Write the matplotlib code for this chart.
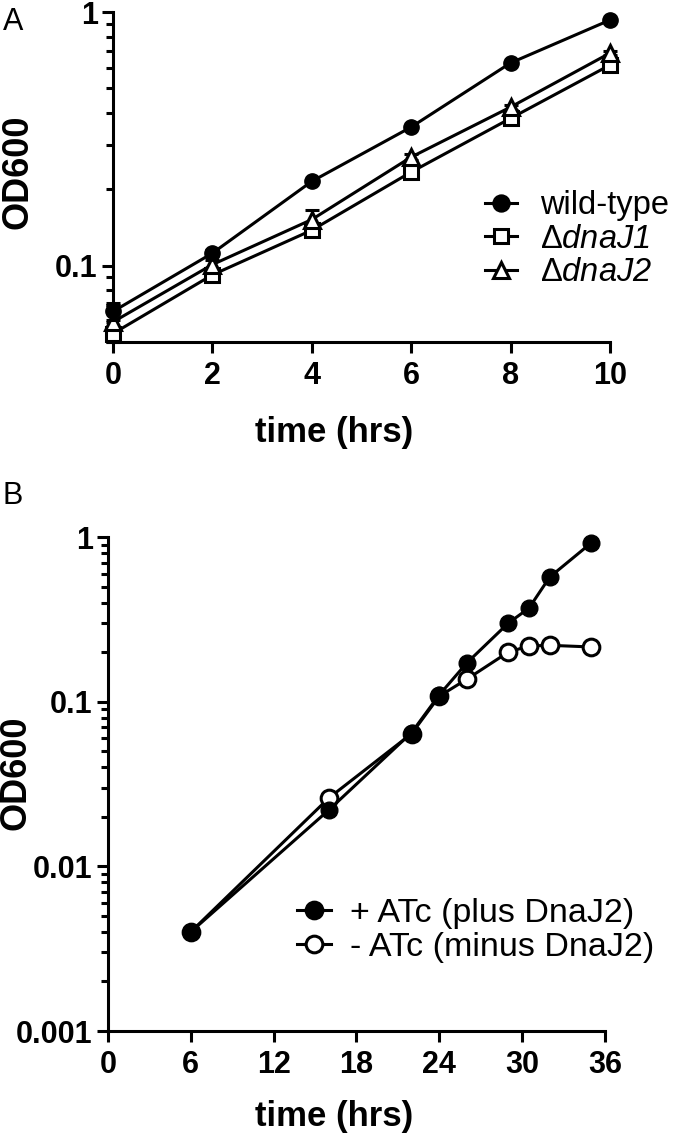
import numpy as np
import matplotlib
matplotlib.use("Agg")
import matplotlib.pyplot as plt
from matplotlib.lines import Line2D
from matplotlib.ticker import LogLocator, NullFormatter, FixedLocator, FixedFormatter

plt.rcParams['font.family'] = ['Liberation Sans', 'DejaVu Sans']
plt.rcParams['mathtext.fontset'] = 'custom'
plt.rcParams['mathtext.rm'] = 'Liberation Sans'
plt.rcParams['mathtext.sf'] = 'Liberation Sans:italic'

# panel A: growth of deletion strains
hrs_a = [0, 2, 4, 6, 8, 10]
wild_type = [0.066, 0.112, 0.215, 0.352, 0.63, 0.93]
dnaj1 = [0.054, 0.092, 0.138, 0.234, 0.381, 0.618]
dnaj2 = [0.060, 0.101, 0.152, 0.268, 0.422, 0.689]
dnaj2_err = [0.010, 0.004, 0.014, 0.008, 0.010, 0.012]
wt_err = [0.005, 0.003, 0.004, 0.006, 0.010, 0.010]
labels_a = ['wild-type', r'$\mathrm{\Delta}\mathsf{dnaJ1}$', r'$\mathrm{\Delta}\mathsf{dnaJ2}$']

# panel B: depletion of DnaJ2
hrs_b = [6, 16, 22, 24, 26, 29, 30.5, 32, 35]
plus_atc = [0.004, 0.022, 0.065, 0.11, 0.172, 0.30, 0.37, 0.571, 0.92]
minus_atc = [0.004, 0.026, 0.064, 0.108, 0.137, 0.20, 0.218, 0.22, 0.215]
labels_b = ['+ ATc (plus DnaJ2)', '- ATc (minus DnaJ2)']

fig = plt.figure(figsize=(6.77, 11.39), dpi=100)

LW = 2.2


def style_axes(ax):
    for s in ['top', 'right']:
        ax.spines[s].set_visible(False)
    for s in ['left', 'bottom']:
        ax.spines[s].set_linewidth(LW)
    ax.tick_params(which='major', direction='out', length=8, width=LW)
    ax.tick_params(axis='x', which='major', pad=6)
    ax.tick_params(axis='y', which='major', pad=3)
    ax.tick_params(which='minor', direction='out', length=5, width=LW)
    ax.tick_params(axis='x', which='minor', bottom=False)
    for lab in ax.get_xticklabels() + ax.get_yticklabels():
        lab.set_fontsize(22)
        lab.set_fontweight('bold')


def handle(fill, mk, ms):
    return Line2D([], [], color='black', lw=LW, marker=mk, ms=ms, mfc=fill,
                  mec='black', mew=LW)


# ---- A ----
axA = fig.add_axes([0.1669, 0.6997, 0.734, 0.2897])
axA.set_yscale('log')
axA.errorbar(hrs_a, wild_type, yerr=wt_err, color='black', lw=LW, marker='o', ms=11,
             mfc='black', mec='black', capsize=5, elinewidth=LW, capthick=LW,
             clip_on=False, zorder=4)
axA.errorbar(hrs_a, dnaj1, color='black', lw=LW, marker='s', ms=10, mfc='white',
             mec='black', mew=LW, clip_on=False, zorder=3)
axA.errorbar(hrs_a, dnaj2, yerr=dnaj2_err, color='black', lw=LW, marker='^', ms=11,
             mfc='white', mec='black', mew=LW, capsize=5, elinewidth=LW, capthick=LW,
             clip_on=False, zorder=3)
axA.set_xlim(0, 10)
axA.set_ylim(0.05, 1)
axA.xaxis.set_major_locator(FixedLocator([0, 2, 4, 6, 8, 10]))
axA.yaxis.set_major_locator(FixedLocator([0.1, 1]))
axA.yaxis.set_major_formatter(FixedFormatter(['0.1', '1']))
axA.yaxis.set_minor_locator(LogLocator(base=10, subs=np.arange(2, 10)))
axA.yaxis.set_minor_formatter(NullFormatter())
style_axes(axA)
axA.set_ylabel('OD600', fontsize=26, fontweight='bold', va='center')
axA.yaxis.set_label_coords(-0.191, 0.515)
axA.set_xlabel('time (hrs)', fontsize=25, fontweight='bold', va='center')
axA.xaxis.set_label_coords(0.445, -0.273)
axA.legend([handle('black', 'o', 11), handle('white', 's', 10), handle('white', '^', 11)],
           labels_a, loc='upper left', bbox_to_anchor=(0.716, 0.833),
           bbox_transform=fig.transFigure, frameon=False, fontsize=23.5,
           handlelength=1.0, handletextpad=0.7, labelspacing=0.08,
           borderpad=0, borderaxespad=0)
fig.text(0.004, 0.994, 'A', fontsize=22, va='top', ha='left')

# ---- B ----
axB = fig.add_axes([0.1595, 0.0948, 0.734, 0.4337])
axB.set_yscale('log')
axB.plot(hrs_b, plus_atc, color='black', lw=LW, marker='o', ms=12, mfc='black',
         mec='black', zorder=4, clip_on=False)
axB.plot(hrs_b, minus_atc, color='black', lw=LW, marker='o', ms=12, mfc='white',
         mec='black', mew=LW, zorder=3, clip_on=False)
axB.set_xlim(0, 36)
axB.set_ylim(0.001, 1)
axB.xaxis.set_major_locator(FixedLocator([0, 6, 12, 18, 24, 30, 36]))
axB.yaxis.set_major_locator(FixedLocator([0.001, 0.01, 0.1, 1]))
axB.yaxis.set_major_formatter(FixedFormatter(['0.001', '0.01', '0.1', '1']))
axB.yaxis.set_minor_locator(LogLocator(base=10, subs=np.arange(2, 10)))
axB.yaxis.set_minor_formatter(NullFormatter())
style_axes(axB)
axB.set_ylabel('OD600', fontsize=26, fontweight='bold', va='center')
axB.yaxis.set_label_coords(-0.185, 0.522)
axB.set_xlabel('time (hrs)', fontsize=25, fontweight='bold', va='center')
axB.xaxis.set_label_coords(0.455, -0.174)
axB.legend([handle('black', 'o', 12), handle('white', 'o', 12)], labels_b,
           loc='upper left', bbox_to_anchor=(0.439, 0.212),
           bbox_transform=fig.transFigure, frameon=False, fontsize=24.5,
           handlelength=1.0, handletextpad=0.55, labelspacing=0.1,
           borderpad=0, borderaxespad=0)
fig.text(0.004, 0.578, 'B', fontsize=22, va='top', ha='left')

fig.savefig('out.png', dpi=100)
